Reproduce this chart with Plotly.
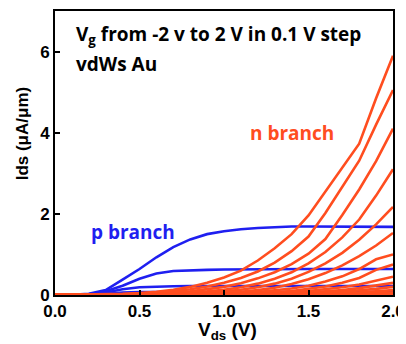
import plotly.graph_objects as go

# Drain voltage grid (V)
VDS = [0.0, 0.1, 0.2, 0.3, 0.4, 0.5, 0.6, 0.7, 0.8, 0.9, 1.0,
       1.1, 1.2, 1.3, 1.4, 1.5, 1.6, 1.7, 1.8, 1.9, 2.0]

# p branch (negative Vg), Ids in uA/um
P1 = [0, 0.005, 0.03, 0.12, 0.38, 0.64, 0.93, 1.18, 1.37, 1.5, 1.57,
      1.62, 1.65, 1.67, 1.69, 1.69, 1.69, 1.69, 1.69, 1.69, 1.68]
P2 = [0, 0.004, 0.02, 0.09, 0.23, 0.4, 0.53, 0.59, 0.61, 0.62, 0.63,
      0.635, 0.64, 0.64, 0.64, 0.64, 0.64, 0.64, 0.64, 0.64, 0.64]
P3 = [0, 0.003, 0.012, 0.06, 0.14, 0.19, 0.21, 0.215, 0.22, 0.22, 0.22,
      0.22, 0.22, 0.22, 0.22, 0.22, 0.22, 0.22, 0.22, 0.22, 0.22]
P4 = [0, 0.002, 0.008, 0.03, 0.06, 0.07, 0.075, 0.075, 0.075, 0.075, 0.075,
      0.075, 0.075, 0.075, 0.075, 0.075, 0.075, 0.075, 0.075, 0.075, 0.075]
P5 = [0, 0.001, 0.004, 0.012, 0.02, 0.025, 0.025, 0.025, 0.025, 0.025, 0.025,
      0.025, 0.025, 0.025, 0.025, 0.025, 0.025, 0.025, 0.025, 0.025, 0.025]

# n branch (positive Vg), Ids in uA/um
N1 = [0, 0.003, 0.008, 0.015, 0.03, 0.05, 0.08, 0.13, 0.2, 0.3, 0.43,
      0.6, 0.85, 1.15, 1.5, 1.96, 2.55, 3.15, 3.73, 4.85, 5.9]
N2 = [0, 0.002, 0.005, 0.01, 0.02, 0.035, 0.06, 0.09, 0.14, 0.21, 0.3,
      0.42, 0.58, 0.8, 1.08, 1.44, 2.02, 2.67, 3.31, 4.2, 5.05]
N3 = [0, 0.001, 0.004, 0.008, 0.014, 0.025, 0.04, 0.06, 0.09, 0.14, 0.2,
      0.29, 0.41, 0.56, 0.76, 1.02, 1.38, 1.97, 2.6, 3.3, 4.1]
N4 = [0, 0.001, 0.003, 0.006, 0.01, 0.017, 0.027, 0.04, 0.06, 0.09, 0.13,
      0.19, 0.28, 0.4, 0.56, 0.78, 1.06, 1.42, 1.86, 2.45, 3.1]
N5 = [0, 0.001, 0.002, 0.004, 0.007, 0.012, 0.018, 0.027, 0.04, 0.06, 0.09,
      0.13, 0.19, 0.28, 0.4, 0.57, 0.78, 1.04, 1.36, 1.74, 2.17]
N6 = [0, 0.0, 0.001, 0.003, 0.005, 0.008, 0.012, 0.018, 0.026, 0.038, 0.055,
      0.08, 0.12, 0.18, 0.27, 0.39, 0.54, 0.73, 0.96, 1.22, 1.53]
N7 = [0, 0.0, 0.001, 0.002, 0.004, 0.006, 0.009, 0.013, 0.018, 0.025, 0.035,
      0.05, 0.075, 0.11, 0.16, 0.23, 0.33, 0.46, 0.64, 0.88, 1.0]
N8 = [0, 0.0, 0.001, 0.002, 0.003, 0.004, 0.006, 0.009, 0.013, 0.018, 0.025,
      0.035, 0.05, 0.07, 0.1, 0.15, 0.21, 0.3, 0.42, 0.62, 0.75]
N9 = [0, 0.0, 0.0, 0.001, 0.002, 0.003, 0.005, 0.007, 0.01, 0.014, 0.02,
      0.028, 0.038, 0.05, 0.07, 0.1, 0.14, 0.19, 0.26, 0.35, 0.45]
N10 = [0, 0.0, 0.0, 0.001, 0.002, 0.003, 0.004, 0.006, 0.008, 0.011, 0.015,
       0.02, 0.027, 0.036, 0.047, 0.06, 0.09, 0.12, 0.17, 0.23, 0.3]
N11 = [0, 0.0, 0.0, 0.001, 0.001, 0.002, 0.003, 0.004, 0.006, 0.008, 0.011,
       0.015, 0.02, 0.026, 0.034, 0.045, 0.06, 0.08, 0.11, 0.15, 0.2]
N12 = [0, 0.0, 0.0, 0.0, 0.001, 0.002, 0.002, 0.003, 0.004, 0.006, 0.008,
       0.011, 0.014, 0.018, 0.024, 0.031, 0.04, 0.052, 0.068, 0.09, 0.12]
N13 = [0, 0.0, 0.0, 0.0, 0.001, 0.001, 0.002, 0.002, 0.003, 0.004, 0.006,
       0.008, 0.01, 0.013, 0.016, 0.02, 0.025, 0.031, 0.039, 0.048, 0.06]
N14 = [0, 0.0, 0.0, 0.0, 0.0, 0.001, 0.001, 0.002, 0.002, 0.003, 0.004,
       0.005, 0.006, 0.007, 0.009, 0.011, 0.013, 0.016, 0.02, 0.025, 0.03]
N15 = [0, 0.0, 0.0, 0.0, 0.0, 0.0, 0.001, 0.001, 0.001, 0.002, 0.002,
       0.003, 0.003, 0.004, 0.005, 0.006, 0.007, 0.008, 0.01, 0.012, 0.015]
N16 = [0] * 21

P_CURVES = [P1, P2, P3, P4, P5]
N_CURVES = [N1, N2, N3, N4, N5, N6, N7, N8, N9, N10, N11, N12, N13, N14, N15, N16]

X_TICKS = [0.0, 0.5, 1.0, 1.5, 2.0]
X_TICK_TEXT = ["0.0", "0.5", "1.0", "1.5", "2.0"]
Y_TICKS = [0, 2, 4, 6]

BLUE = "#1f1ff0"
RED = "#ff4d1f"

fig = go.Figure()
for c in P_CURVES:
    fig.add_trace(go.Scatter(x=VDS, y=c, mode="lines",
                             line=dict(color=BLUE, width=2.6), showlegend=False))
for c in N_CURVES:
    fig.add_trace(go.Scatter(x=VDS, y=c, mode="lines",
                             line=dict(color=RED, width=2.6), showlegend=False))

tickfont = dict(family="Liberation Sans, Arial", size=17, color="black", weight="bold")
# the page body adds an 8px offset, compensated in the margins
fig.update_layout(
    width=398, height=336,
    margin=dict(l=47, r=12, t=1, b=49),
    paper_bgcolor="white", plot_bgcolor="white",
    xaxis=dict(range=[0, 2], tickvals=X_TICKS, ticktext=X_TICK_TEXT,
               ticks="inside", ticklen=5, tickwidth=2, tickcolor="black",
               showline=True, linewidth=2, linecolor="black", mirror=True,
               showgrid=False, zeroline=False, tickfont=tickfont),
    yaxis=dict(range=[0, 7], tickvals=Y_TICKS,
               ticks="inside", ticklen=5, tickwidth=2, tickcolor="black",
               showline=True, linewidth=2, linecolor="black", mirror=True,
               showgrid=False, zeroline=False, tickfont=tickfont),
)

# axis titles
fig.add_annotation(xref="paper", yref="paper", x=0.51, y=-0.128, xanchor="center",
                   yanchor="middle", showarrow=False, text="V<sub>ds</sub> (V)",
                   font=dict(family="Liberation Sans, Arial", size=19,
                             color="black", weight="bold"))
fig.add_annotation(xref="paper", yref="paper", x=-0.097, y=0.57, xanchor="center",
                   yanchor="middle", showarrow=False, textangle=-90,
                   text="Ids (\u03bcA/\u03bcm)",
                   font=dict(family="Liberation Sans, Arial", size=17,
                             color="black", weight="bold"))

annfont = dict(family="Open Sans, Lato", size=19, weight="bold")
fig.add_annotation(xref="paper", yref="paper", x=0.057, y=0.915, xanchor="left",
                   yanchor="middle", showarrow=False,
                   text="V<sub>g</sub> from -2 v to 2 V in 0.1 V step",
                   font=dict(color="black", **annfont))
fig.add_annotation(xref="paper", yref="paper", x=0.057, y=0.815, xanchor="left",
                   yanchor="middle", showarrow=False, text="vdWs Au",
                   font=dict(color="black", **annfont))
fig.add_annotation(xref="paper", yref="paper", x=0.70, y=0.57, xanchor="center",
                   yanchor="middle", showarrow=False, text="n branch",
                   font=dict(color=RED, **annfont))
fig.add_annotation(xref="paper", yref="paper", x=0.232, y=0.222, xanchor="center",
                   yanchor="middle", showarrow=False, text="p branch",
                   font=dict(color=BLUE, **annfont))

fig.write_html("out.html")
